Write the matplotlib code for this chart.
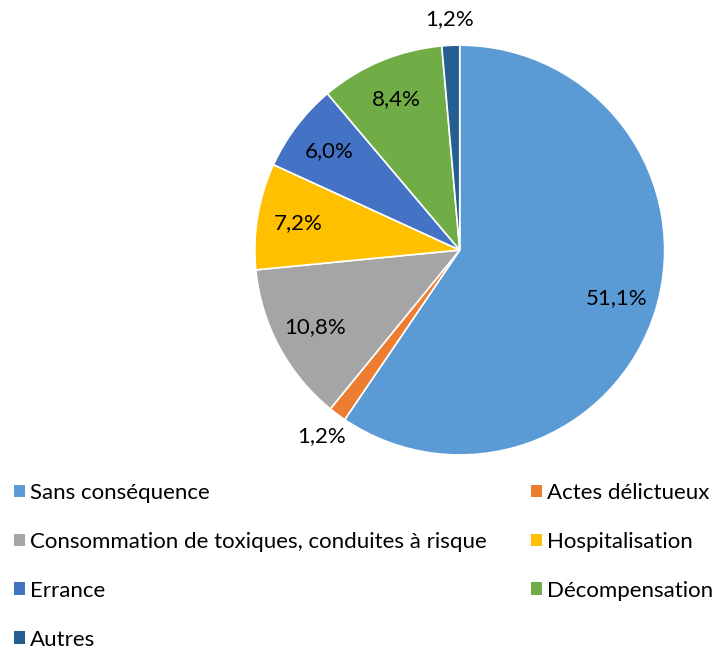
import numpy as np
import matplotlib
import matplotlib.pyplot as plt
from matplotlib.patches import Patch

matplotlib.rcParams["font.family"] = ["Lato", "DejaVu Sans"]

# données du graphique (valeurs affichées, %)
categories = ["Sans conséquence", "Actes délictueux",
              "Consommation de toxiques, conduites à risque", "Hospitalisation",
              "Errance", "Décompensation", "Autres"]
values = [51.1, 1.2, 10.8, 7.2, 6.0, 8.4, 1.2]
labels = ["51,1%", "1,2%", "10,8%", "7,2%", "6,0%", "8,4%", "1,2%"]
colors = ["#5B9BD5", "#ED7D31", "#A5A5A5", "#FFC000", "#4472C4", "#70AD47", "#255E91"]

fig = plt.figure(figsize=(7.24, 6.52), dpi=100)
ax = fig.add_axes([0.352, 0.302, 0.566, 0.629])

wedges, _ = ax.pie(values, colors=colors, startangle=90, counterclock=False,
                   wedgeprops=dict(edgecolor="white", linewidth=1.2))
ax.set_xlim(-1, 1)
ax.set_ylim(-1, 1)
ax.set_aspect("equal")

# étiquettes : dedans pour les grandes parts, dehors pour les petites
for w, lab, v in zip(wedges, labels, values):
    ang = np.deg2rad((w.theta1 + w.theta2) / 2)
    r = 0.8 if v > 3 else 1.13
    ax.text(r * np.cos(ang), r * np.sin(ang), lab, ha="center", va="center",
            fontsize=16, color="#000000", clip_on=False)

# légende en lignes (matplotlib remplit par colonnes, donc on réordonne)
order = [0, 2, 4, 6, 1, 3, 5]
handles = [Patch(facecolor=colors[i], edgecolor="none") for i in order]
fig.legend(handles, [categories[i] for i in order], ncol=2, loc="upper left",
           bbox_to_anchor=(-0.008, 0.29), frameon=False, fontsize=16,
           handlelength=0.5, handleheight=0.5, handletextpad=0.2,
           labelspacing=1.3, columnspacing=2.0)

plt.savefig("out.png", dpi=100)
